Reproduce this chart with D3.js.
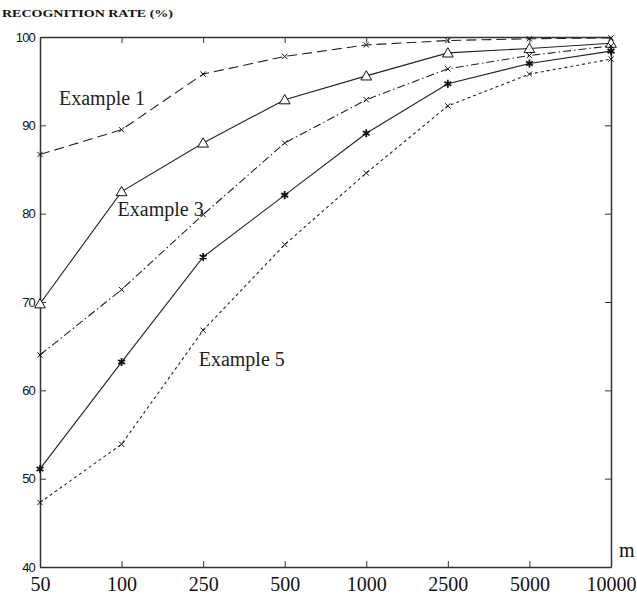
<!DOCTYPE html>
<html>
<head>
<meta charset="utf-8">
<script src="https://cdn.jsdelivr.net/npm/d3@7"></script>
<style>
  body { margin: 0; background: #fff; }
  svg { display: block; }
</style>
</head>
<body>
<div id="graf"></div>
<script>
// -- Datos
tamanos = ['50', '100', '250', '500', '1000', '2500', '5000', '10000']
yTicks = [40, 50, 60, 70, 80, 90, 100]
ejemplo1 = [86.7, 89.5, 95.8, 97.8, 99.1, 99.6, 99.8, 99.9]
ejemploTri = [69.8, 82.5, 88.0, 92.9, 95.6, 98.2, 98.7, 99.3]
ejemplo3 = [64.0, 71.4, 79.9, 88.0, 92.9, 96.4, 97.9, 99.0]
ejemploEst = [51.1, 63.2, 75.1, 82.1, 89.1, 94.7, 97.0, 98.4]
ejemplo5 = [47.3, 53.9, 66.8, 76.5, 84.6, 92.2, 95.8, 97.5]
etiquetas = [
  {texto: 'Example 1', x: '50', y: 92.3, dx: 19},
  {texto: 'Example 3', x: '100', y: 79.7, dx: -4},
  {texto: 'Example 5', x: '500', y: 62.7, dx: -86}
]

series = [
  {valores: ejemplo1, dash: '10,5', marca: 'x'},
  {valores: ejemploTri, dash: null, marca: 'tri'},
  {valores: ejemplo3, dash: '8,3,1.5,3', marca: 'x'},
  {valores: ejemploEst, dash: null, marca: 'star'},
  {valores: ejemplo5, dash: '3,3', marca: 'x'}
]

// -- Canvas
ancho_total = 637
alto_total = 599
margins = {top: 37, left: 40, right: 26, bottom: 32}
ancho = ancho_total - margins.left - margins.right
alto = alto_total - margins.top - margins.bottom

svg = d3.select('#graf').append('svg')
        .attr('width', ancho_total)
        .attr('height', alto_total)

g = svg.append('g')
       .attr('transform', `translate(${margins.left}, ${margins.top})`)

// -- Escaladores
x = d3.scalePoint().domain(tamanos).range([0, ancho])
y = d3.scaleLinear().domain([40, 100]).range([alto, 0])

colorEje = '#333'

// -- Ejes (ticks hacia adentro)
g.append('g')
  .attr('transform', `translate(0,${alto})`)
  .call(d3.axisBottom(x).tickSizeInner(-6).tickSizeOuter(0).tickPadding(10))
  .call(a => a.select('.domain').attr('stroke', colorEje).attr('stroke-width', 1.5))
  .call(a => a.selectAll('.tick line').attr('stroke', colorEje))
  .call(a => a.selectAll('.tick text')
    .attr('font-family', '"Liberation Serif", "Times New Roman", serif')
    .attr('font-size', '20px').attr('fill', '#111'))

g.append('g')
  .call(d3.axisTop(x).tickSizeInner(-6).tickSizeOuter(0).tickFormat(''))
  .call(a => a.select('.domain').attr('stroke', colorEje).attr('stroke-width', 1.5))
  .call(a => a.selectAll('.tick line').attr('stroke', colorEje))

g.append('g')
  .call(d3.axisLeft(y).tickValues(yTicks).tickSizeInner(-6).tickSizeOuter(0).tickPadding(5))
  .call(a => a.select('.domain').attr('stroke', colorEje).attr('stroke-width', 1.5))
  .call(a => a.selectAll('.tick line').attr('stroke', colorEje))
  .call(a => a.selectAll('.tick text')
    .attr('font-family', '"Liberation Sans", Arial, sans-serif')
    .attr('font-size', '13px').attr('letter-spacing', '-0.8px').attr('fill', '#111'))

g.append('g')
  .attr('transform', `translate(${ancho},0)`)
  .call(d3.axisRight(y).tickValues(yTicks).tickSizeInner(-6).tickSizeOuter(0).tickFormat(''))
  .call(a => a.select('.domain').attr('stroke', colorEje).attr('stroke-width', 1.5))
  .call(a => a.selectAll('.tick line').attr('stroke', colorEje))

// -- Lineas
linea = d3.line()
  .x((d, i) => x(tamanos[i]))
  .y(d => y(d))

series.forEach(s => {
  g.append('path')
    .datum(s.valores)
    .attr('d', linea)
    .attr('fill', 'none')
    .attr('stroke', '#222')
    .attr('stroke-width', 1.1)
    .attr('stroke-dasharray', s.dash)

  simbolo = s.marca == 'tri' ? d3.symbol(d3.symbolTriangle, 50)
          : s.marca == 'star' ? d3.symbol(d3.symbolAsterisk, 45)
          : d3.symbol(d3.symbolTimes, 20)

  g.selectAll(null)
    .data(s.valores)
    .enter()
    .append('path')
      .attr('d', simbolo)
      .attr('transform', (d, i) => `translate(${x(tamanos[i])},${y(d) + (s.marca == 'tri' ? 1 : 0)})`)
      .attr('fill', s.marca == 'tri' ? '#fff' : 'none')
      .attr('stroke', '#111')
      .attr('stroke-width', s.marca == 'star' ? 1.8 : 1)
})

// -- Letreros
g.selectAll('.etiqueta')
  .data(etiquetas)
  .enter()
  .append('text')
    .attr('x', d => x(d.x) + d.dx)
    .attr('y', d => y(d.y))
    .attr('font-family', '"Liberation Serif", "Times New Roman", serif')
    .attr('font-size', '20px')
    .attr('fill', '#222')
    .text(d => d.texto)

svg.append('text')
  .attr('x', 619)
  .attr('y', 557)
  .attr('font-family', '"Liberation Serif", "Times New Roman", serif')
  .attr('font-size', '20px')
  .attr('fill', '#111')
  .text('m')

svg.append('text')
  .attr('x', 2)
  .attr('y', 17)
  .attr('font-family', '"Liberation Serif", "Times New Roman", serif')
  .attr('font-weight', 'bold')
  .attr('font-size', '11px')
  .attr('textLength', 171)
  .attr('lengthAdjust', 'spacingAndGlyphs')
  .attr('fill', '#111')
  .text('RECOGNITION RATE (%)')
</script>
</body>
</html>
